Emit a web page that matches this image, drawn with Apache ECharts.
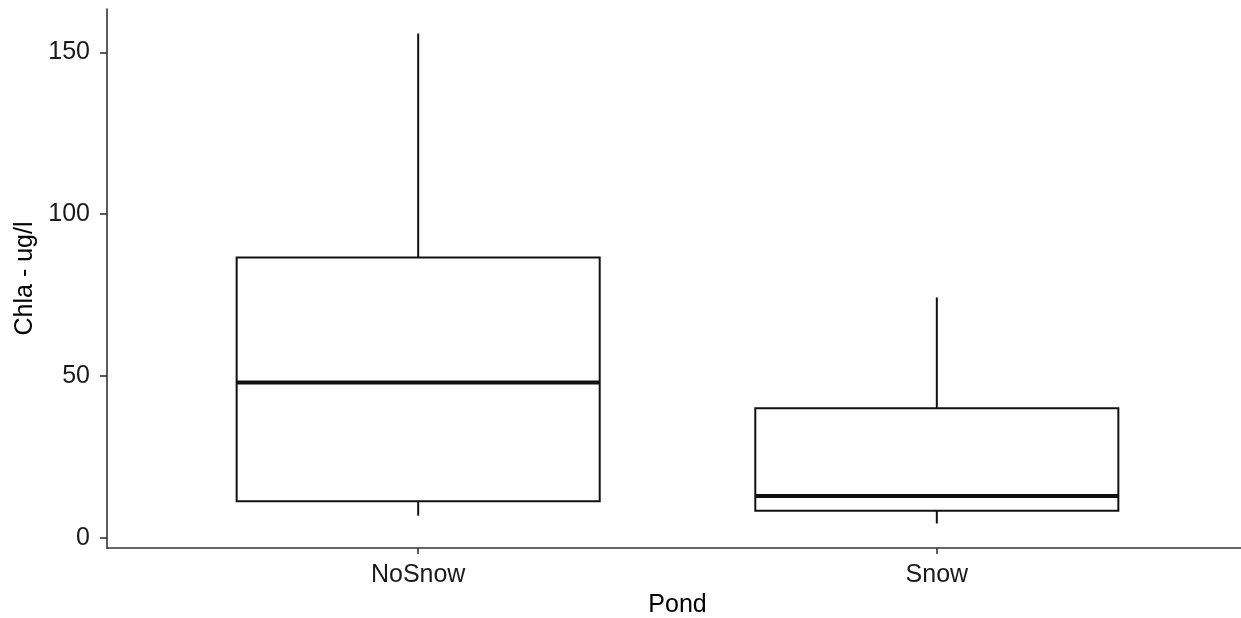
<!DOCTYPE html>
<html>
<head>
<meta charset="utf-8">
<script src="https://cdn.jsdelivr.net/npm/echarts@6/dist/echarts.min.js"></script>
<style>
  html, body { margin: 0; padding: 0; background: #ffffff; }
  #chart { width: 1241px; height: 618px; }
</style>
</head>
<body>
<div id="chart"></div>
<script>
// ---- data ----
const categories   = ['NoSnow', 'Snow'];
const lowerWhisker = [6.9, 4.5];
const q1           = [11.4, 8.4];
const median       = [48.05, 13.0];
const q3           = [86.6, 40.1];
const upperWhisker = [155.8, 74.3];
const yTicks       = [0, 50, 100, 150];

// ---- build series data ----
const boxData = categories.map((c, i) => [i + 1, lowerWhisker[i], q1[i], median[i], q3[i], upperWhisker[i]]);
const catPositions = categories.map((c, i) => i + 1);

const FONT = '"Liberation Sans", Arial, sans-serif';
const BOX_W = 0.7;

const chart = echarts.init(document.getElementById('chart'), null, { renderer: 'canvas' });
chart.setOption({
  backgroundColor: '#ffffff',
  animation: false,
  grid: { left: 107, right: -7, top: 9, bottom: 70, containLabel: false, outerBoundsMode: 'none' },
  xAxis: {
    type: 'value',
    min: 0.4,
    max: 2.6,
    name: 'Pond',
    nameLocation: 'middle',
    nameGap: 40,
    nameTextStyle: { fontFamily: FONT, fontSize: 25, color: '#000' },
    axisLine: { show: true, onZero: false, lineStyle: { color: '#333', width: 1.6 } },
    axisTick: { show: true, length: 6, customValues: catPositions, lineStyle: { color: '#333', width: 1.6 } },
    axisLabel: {
      customValues: catPositions,
      margin: 15,
      fontFamily: FONT, fontSize: 25, color: '#1a1a1a',
      formatter: v => categories[Math.round(v) - 1] || ''
    },
    splitLine: { show: false }
  },
  yAxis: {
    type: 'value',
    min: -3.07,
    max: 163.37,
    name: 'Chla - ug/l',
    nameLocation: 'middle',
    nameRotate: 90,
    nameGap: 62,
    nameTextStyle: { fontFamily: FONT, fontSize: 25, color: '#000' },
    axisLine: { show: true, onZero: false, lineStyle: { color: '#333', width: 1.6 } },
    axisTick: { show: true, length: 7, customValues: yTicks, lineStyle: { color: '#333', width: 1.6 } },
    axisLabel: {
      customValues: yTicks,
      margin: 17,
      fontFamily: FONT, fontSize: 25, color: '#1a1a1a'
    },
    splitLine: { show: false }
  },
  series: [{
    type: 'custom',
    data: boxData,
    encode: { x: 0, y: [1, 2, 3, 4, 5] },
    renderItem: function (params, api) {
      const x = api.value(0);
      const pLo = api.coord([x, api.value(1)]);
      const pQ1 = api.coord([x, api.value(2)]);
      const pMed = api.coord([x, api.value(3)]);
      const pQ3 = api.coord([x, api.value(4)]);
      const pHi = api.coord([x, api.value(5)]);
      const half = api.size([BOX_W, 0])[0] / 2;
      const stroke = '#111';
      return {
        type: 'group',
        children: [
          { type: 'line', shape: { x1: pHi[0], y1: pHi[1], x2: pQ3[0], y2: pQ3[1] },
            style: { stroke: stroke, lineWidth: 2 } },
          { type: 'line', shape: { x1: pQ1[0], y1: pQ1[1], x2: pLo[0], y2: pLo[1] },
            style: { stroke: stroke, lineWidth: 2 } },
          { type: 'rect', shape: { x: pQ3[0] - half, y: pQ3[1], width: half * 2, height: pQ1[1] - pQ3[1] },
            style: { fill: '#ffffff', stroke: stroke, lineWidth: 2 } },
          { type: 'line', shape: { x1: pMed[0] - half, y1: pMed[1], x2: pMed[0] + half, y2: pMed[1] },
            style: { stroke: stroke, lineWidth: 4 } }
        ]
      };
    }
  }]
});
</script>
</body>
</html>
